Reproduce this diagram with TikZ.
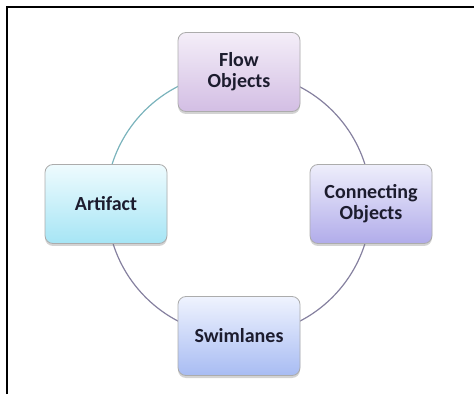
\documentclass[tikz,border=0pt]{standalone}
\usepackage{fontspec}
\setmainfont{Carlito}
\usetikzlibrary{shadows,backgrounds}
\definecolor{ring}{HTML}{85809F}
\definecolor{ringteal}{HTML}{7AB3BC}
\definecolor{txt}{HTML}{1C1C2E}
\definecolor{flowtop}{HTML}{F4EEF8}
\definecolor{flowbot}{HTML}{D3BEE4}
\definecolor{conntop}{HTML}{EEEEFB}
\definecolor{connbot}{HTML}{B1ACEA}
\definecolor{arttop}{HTML}{EEFBFE}
\definecolor{artbot}{HTML}{A6E5F5}
\definecolor{swimtop}{HTML}{EFF3FE}
\definecolor{swimbot}{HTML}{A8BCF3}
\begin{document}
\begin{tikzpicture}[x=1pt,y=1pt,
    box/.style={draw=gray!65, line width=0.8pt, rounded corners=8pt,
        minimum width=122pt, minimum height=79pt, align=center,
        text=txt, font=\fontsize{20}{21}\selectfont\bfseries,
        drop shadow={opacity=0.35, shadow xshift=0pt, shadow yshift=-2.5pt}},
    link/.style={line width=1.2pt}]
    \useasboundingbox (0,0) rectangle (474,394);
    \draw[line width=2pt] (7,0) -- (7,387) -- (474,387);
    \node[box, top color=flowtop, bottom color=flowbot] (flow) at (239,322) {Flow\\Objects};
    \node[box, top color=conntop, bottom color=connbot] (conn) at (371,190) {Connecting\\Objects};
    \node[box, top color=arttop, bottom color=artbot] (art) at (106,190) {Artifact};
    \node[box, top color=swimtop, bottom color=swimbot] (swim) at (239,58) {Swimlanes};
    \begin{scope}[on background layer]
        \draw[link, ring] (flow.center) arc[start angle=90, end angle=0, radius=132];
        \draw[link, ring] (conn.center) arc[start angle=0, end angle=-90, radius=132];
        \draw[link, ring] (swim.center) arc[start angle=270, end angle=180, radius=132];
        \draw[link, ringteal] (art.center) arc[start angle=180, end angle=90, radius=132];
    \end{scope}
\end{tikzpicture}
\end{document}
